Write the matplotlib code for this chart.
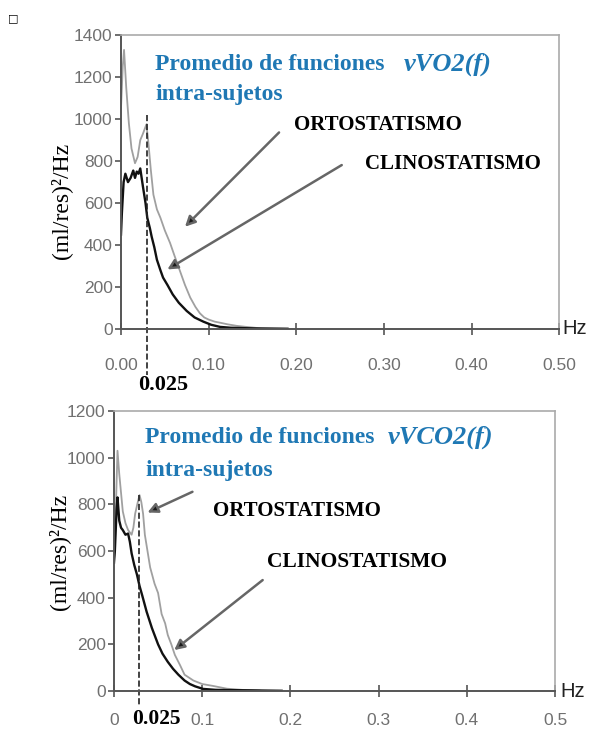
import numpy as np
import matplotlib
matplotlib.use("Agg")
import matplotlib.pyplot as plt

# ---- data ----
# top panel: vVO2(f)
f_orto_1 = [0.000, 0.002, 0.0035, 0.006, 0.009, 0.012, 0.016, 0.019, 0.022, 0.025, 0.029, 0.031,
            0.034, 0.037, 0.041, 0.045, 0.050, 0.056, 0.061, 0.067, 0.073, 0.079, 0.085, 0.090,
            0.095, 0.100, 0.107, 0.113, 0.122, 0.132, 0.143, 0.155, 0.170, 0.190]
v_orto_1 = [1050, 1250, 1330, 1150, 980, 860, 790, 820, 900, 930, 975, 900,
            760, 640, 570, 530, 470, 410, 350, 280, 210, 150, 105, 75,
            55, 45, 35, 30, 22, 15, 10, 5, 3, 1]
f_clino_1 = [0.000, 0.001, 0.003, 0.005, 0.008, 0.011, 0.014, 0.016, 0.018, 0.020, 0.022, 0.025,
             0.028, 0.030, 0.033, 0.035, 0.038, 0.041, 0.045, 0.048, 0.053, 0.059, 0.066, 0.075,
             0.084, 0.094, 0.103, 0.113, 0.125, 0.140, 0.160, 0.190]
v_clino_1 = [450, 550, 700, 740, 700, 720, 755, 720, 750, 740, 765, 680,
             600, 530, 480, 440, 390, 330, 280, 245, 210, 165, 125, 86,
             55, 35, 20, 10, 6, 4, 2, 1]

# bottom panel: vVCO2(f)
f_orto_2 = [0.000, 0.001, 0.003, 0.004, 0.006, 0.008, 0.010, 0.013, 0.016, 0.020, 0.022, 0.024,
            0.027, 0.029, 0.031, 0.033, 0.035, 0.038, 0.041, 0.046, 0.050, 0.054, 0.058, 0.061,
            0.065, 0.069, 0.075, 0.080, 0.090, 0.100, 0.112, 0.128, 0.145, 0.165]
v_orto_2 = [560, 620, 900, 1030, 930, 850, 770, 720, 690, 670, 700, 760,
            810, 840, 810, 760, 670, 600, 530, 460, 420, 330, 290, 240,
            200, 155, 110, 70, 45, 30, 22, 10, 5, 2]
f_clino_2 = [0.000, 0.001, 0.003, 0.004, 0.006, 0.008, 0.010, 0.013, 0.016, 0.018, 0.020, 0.023,
             0.026, 0.029, 0.032, 0.037, 0.043, 0.050, 0.055, 0.061, 0.067, 0.073, 0.080, 0.086,
             0.092, 0.101, 0.115, 0.130, 0.150, 0.190]
v_clino_2 = [550, 600, 780, 830, 730, 700, 690, 670, 675, 640, 590, 540,
             500, 450, 410, 340, 270, 200, 160, 125, 95, 70, 45, 30,
             20, 9, 5, 4, 3, 1]

xticks_1 = [0.0, 0.1, 0.2, 0.3, 0.4, 0.5]
xlabels_1 = ["0.00", "0.10", "0.20", "0.30", "0.40", "0.50"]
yticks_1 = [0, 200, 400, 600, 800, 1000, 1200, 1400]
xticks_2 = [0.0, 0.1, 0.2, 0.3, 0.4, 0.5]
xlabels_2 = ["0", "0.1", "0.2", "0.3", "0.4", "0.5"]
yticks_2 = [0, 200, 400, 600, 800, 1000, 1200]
mark_f = [0.0297, 0.0283]

SANS = ["Liberation Sans", "DejaVu Sans"]
SERIF = ["Liberation Serif", "DejaVu Serif"]
BLUE = "#1f78b4"
TICKC = "#707070"

fig = plt.figure(figsize=(5.89, 7.29), dpi=100)
ax1 = fig.add_axes([0.2054, 0.5487, 0.744, 0.403])
ax2 = fig.add_axes([0.1935, 0.0521, 0.749, 0.384])


def style(ax, xt, xl, yt, ymax, xpad):
    ax.set_xlim(0, 0.5)
    ax.set_ylim(0, ymax)
    ax.set_xticks(xt)
    ax.set_xticklabels(xl)
    ax.set_yticks(yt)
    for s in ["left", "bottom"]:
        ax.spines[s].set_color("#555555")
        ax.spines[s].set_linewidth(1.4)
    for s in ["top", "right"]:
        ax.spines[s].set_color("#aaaaaa")
        ax.spines[s].set_linewidth(1.2)
    ax.tick_params(axis="x", direction="inout", length=8, width=1.2, color="#555555", pad=xpad)
    ax.tick_params(axis="y", direction="out", length=4, width=1.2, color="#555555", pad=2)
    for lab in ax.get_xticklabels() + ax.get_yticklabels():
        lab.set_family(SANS)
        lab.set_fontsize(12.5)
        lab.set_color(TICKC)


style(ax1, xticks_1, xlabels_1, yticks_1, 1400, 17)
style(ax2, xticks_2, xlabels_2, yticks_2, 1200, 12)

ax1.plot(f_orto_1, v_orto_1, color="#a0a0a0", lw=1.3)
ax1.plot(f_clino_1, v_clino_1, color="#111111", lw=1.7)
ax2.plot(f_orto_2, v_orto_2, color="#a0a0a0", lw=1.3)
ax2.plot(f_clino_2, v_clino_2, color="#111111", lw=1.7)

# dashed marker lines at 0.025 Hz, running below the axis
ax1.plot([mark_f[0], mark_f[0]], [1020, -220], ls="--", color="#222222", lw=1.2, clip_on=False)
ax2.plot([mark_f[1], mark_f[1]], [840, -65], ls="--", color="#222222", lw=1.2, clip_on=False)
ax1.text(0.0194, -268, "0.025", family=SERIF, weight="bold", fontsize=16,
         ha="left", va="center")
ax2.text(0.0204, -122, "0.025", family=SERIF, weight="bold", fontsize=15.5,
         ha="left", va="center")

# titles
ax1.text(0.0388, 1261, "Promedio de funciones", family=SERIF, weight="bold", fontsize=17,
         color=BLUE, va="center")
ax1.text(0.323, 1261, "vVO2(f)", family=SERIF, weight="bold", style="italic", fontsize=19,
         color=BLUE, va="center")
ax1.text(0.0388, 1118, "intra-sujetos", family=SERIF, weight="bold", fontsize=17,
         color=BLUE, va="center")
ax2.text(0.0351, 1088, "Promedio de funciones", family=SERIF, weight="bold", fontsize=17,
         color=BLUE, va="center")
ax2.text(0.3107, 1088, "vVCO2(f)", family=SERIF, weight="bold", style="italic", fontsize=19,
         color=BLUE, va="center")
ax2.text(0.0351, 945, "intra-sujetos", family=SERIF, weight="bold", fontsize=17,
         color=BLUE, va="center")

# annotations
arrow = dict(arrowstyle="-|>", fc="#1a1a1a", ec="#666666", lw=1.8, mutation_scale=15)
ax1.text(0.1975, 970, "ORTOSTATISMO", family=SERIF, weight="bold", fontsize=15, va="center")
ax1.text(0.2785, 784, "CLINOSTATISMO", family=SERIF, weight="bold", fontsize=15, va="center")
ax1.annotate("", xy=(0.0708, 478), xytext=(0.1826, 946), arrowprops=arrow)
ax1.annotate("", xy=(0.0502, 277), xytext=(0.2546, 788), arrowprops=arrow)
ax2.text(0.112, 773, "ORTOSTATISMO", family=SERIF, weight="bold", fontsize=15, va="center")
ax2.text(0.1735, 552, "CLINOSTATISMO", family=SERIF, weight="bold", fontsize=15.5, va="center")
ax2.annotate("", xy=(0.0351, 760), xytext=(0.0918, 859), arrowprops=arrow)
ax2.annotate("", xy=(0.0658, 168), xytext=(0.171, 483), arrowprops=arrow)

# Hz labels at axis end
ax1.text(1.008, 0.0, "Hz", transform=ax1.transAxes, family=SANS,
         fontsize=14.5, color="#222222", ha="left", va="center")
ax2.text(1.012, 0.0, "Hz", transform=ax2.transAxes, family=SANS,
         fontsize=14.5, color="#222222", ha="left", va="center")

# y labels
fig.text(0.104, 0.725, "(ml/res)\u00b2/Hz", family=SERIF, fontsize=17, rotation=90,
         ha="center", va="center")
fig.text(0.100, 0.243, "(ml/res)\u00b2/Hz", family=SERIF, fontsize=17, rotation=90,
         ha="center", va="center")

# small box glyph in the corner
fig.text(0.022, 0.975, "\u25a1", family=["DejaVu Sans"], fontsize=8, weight="bold",
         ha="center", va="center")

fig.savefig("out.png", dpi=100)
